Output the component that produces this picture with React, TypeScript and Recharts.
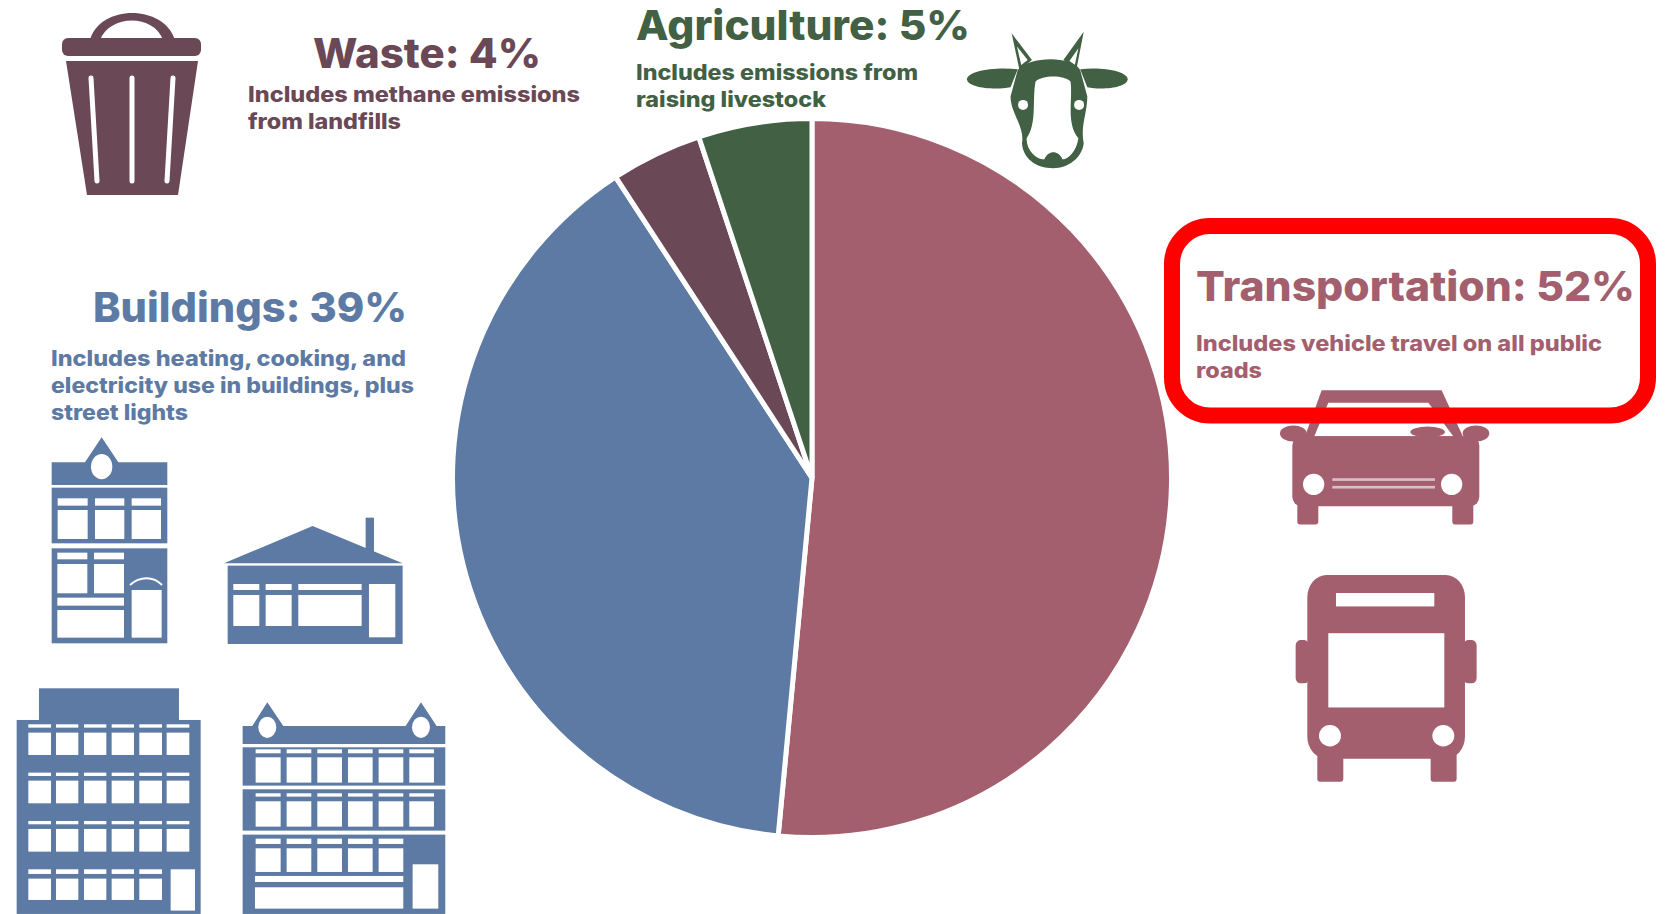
import React from 'react';
import { Cell, Pie, PieChart } from 'recharts';

const sectors = ['Transportation', 'Buildings', 'Waste', 'Agriculture'];
const shares = [51.5, 39.3, 4.1, 5.1];
const colors = ['#a35f6e', '#5c7aa3', '#6a4855', '#426044'];

const headings = ['Transportation: 52%', 'Buildings: 39%', 'Waste: 4%', 'Agriculture: 5%'];
const notes = [
    ['Includes vehicle travel on all public', 'roads'],
    ['Includes heating, cooking, and', 'electricity use in buildings, plus', 'street lights'],
    ['Includes methane emissions', 'from landfills'],
    ['Includes emissions from', 'raising livestock'],
];

const data = sectors.map((name, i) => ({ name, value: shares[i] }));

// x, baseline, width, font size of each heading
const headingBoxes = [
    [1196, 301, 439, 41],
    [93, 322, 314, 41],
    [313, 68, 228, 41],
    [636, 40, 334, 41],
];
// x, first baseline, line gap, font size, line widths
const noteBoxes = [
    [1196, 351, 27, 21, [406, 66]],
    [51, 366, 27, 21, [355, 363, 137]],
    [248, 102, 27, 21, [332, 153]],
    [636, 80, 27, 21, [282, 190]],
];

const font = 'Inter, "Open Sans", sans-serif';

// white cut-outs for the icons, in zoomed-crop units
const Hole = ({ x0, x1, y0, y1 }: { x0: number, x1: number, y0: number, y1: number }) => (
    <rect x={x0} y={y0} width={x1 - x0} height={y1 - y0} fill="#fff" />
);

const Windows = ({ cols, rows }: { cols: number[][], rows: number[][] }) => (
    <>
        {rows.map((r, j) => cols.map((c, i) => (
            <React.Fragment key={`${j}-${i}`}>
                <Hole x0={c[0]} x1={c[1]} y0={r[0]} y1={r[1]} />
                <Hole x0={c[0]} x1={c[1]} y0={r[2]} y1={r[3]} />
            </React.Fragment>
        )))}
    </>
);

const TrashIcon = () => (
    <g fill="#6a4855">
        <path d="M90 40 C100 4 164 4 175 40 L163 40 C154 14 110 14 100 40 Z" />
        <rect x={62} y={38} width={139} height={18} rx={6} />
        <path d="M66 61 L198 61 L178 195 L87 195 Z" />
        <g stroke="#fff" strokeWidth={5} strokeLinecap="round">
            <line x1={91} y1={78} x2={97} y2={181} />
            <line x1={132} y1={78} x2={132} y2={181} />
            <line x1={173} y1={78} x2={167} y2={181} />
        </g>
    </g>
);

const CowIcon = () => (
    <g transform="translate(600,0) scale(0.357,0.333)" fill="#426044">
        <path d="M1153 100 L1210 180 L1175 210 Z M1168 140 L1180 195 L1198 180 Z" fillRule="evenodd" />
        <path d="M1355 95 L1335 205 L1298 180 Z M1340 145 L1315 183 L1330 195 Z" fillRule="evenodd" />
        <path d="M1170 208 C1100 200 1028 215 1028 238 C1028 262 1100 272 1150 262 Z" />
        <path d="M1345 208 C1410 200 1478 215 1478 238 C1478 262 1410 272 1365 262 Z" />
        <path d="M1170 210 C1200 170 1320 165 1345 210 L1365 290 C1365 340 1345 380 1355 430 C1350 475 1310 505 1270 505 C1220 505 1185 475 1182 430 C1190 380 1150 340 1150 290 Z" />
        <path d="M1220 245 C1240 225 1300 225 1318 245 C1325 300 1305 370 1340 415 C1335 455 1310 480 1295 478 C1285 450 1255 450 1245 478 C1225 480 1195 455 1195 415 C1225 370 1210 300 1220 245 Z" fill="#fff" />
        <ellipse cx={1185} cy={315} rx={14} ry={15} fill="#fff" />
        <ellipse cx={1342} cy={315} rx={14} ry={15} fill="#fff" />
    </g>
);

const VehicleIcons = () => (
    <g transform="translate(1150,200) scale(0.3333,0.3827)" fill="#a35f6e">
        {/* car */}
        <path d="M515 497 L875 497 L945 630 L460 630 Z" />
        <path d="M535 530 L835 530 L910 617 L493 617 Z" fill="#fff" />
        <ellipse cx={833} cy={606} rx={52} ry={14} />
        <ellipse cx={430} cy={610} rx={40} ry={21} />
        <ellipse cx={978} cy={610} rx={40} ry={21} />
        <rect x={427} y={617} width={561} height={183} rx={25} />
        <rect x={442} y={770} width={63} height={78} rx={8} />
        <rect x={907} y={770} width={63} height={78} rx={8} />
        <ellipse cx={491} cy={743} rx={32} ry={28} fill="#fff" />
        <ellipse cx={905} cy={743} rx={32} ry={28} fill="#fff" />
        <rect x={547} y={727} width={308} height={7} fill="#fff" fillOpacity={0.6} />
        <rect x={547} y={747} width={308} height={7} fill="#fff" fillOpacity={0.6} />
        {/* bus */}
        <rect x={437} y={1150} width={40} height={113} rx={14} />
        <rect x={940} y={1150} width={40} height={113} rx={14} />
        <rect x={472} y={980} width={473} height={480} rx={58} />
        <rect x={502} y={1420} width={78} height={100} rx={8} />
        <rect x={842} y={1420} width={78} height={100} rx={8} />
        <Hole x0={558} x1={853} y0={1027} y1={1062} />
        <Hole x0={535} x1={883} y0={1132} y1={1326} />
        <ellipse cx={540} cy={1400} rx={33} ry={28} fill="#fff" />
        <ellipse cx={880} cy={1400} rx={33} ry={28} fill="#fff" />
    </g>
);

const colsB = [[767, 842], [860, 934], [952, 1026], [1044, 1118], [1136, 1210], [1228, 1302]];
const colsC = [[85, 153], [168, 235], [252, 319], [335, 402], [418, 486], [500, 568]];

const BuildingIcons = () => (
    <g transform="translate(0,420) scale(0.3333)" fill="#5c7aa3">
        {/* corner building */}
        <path d="M305 52 L355 127 L502 127 L502 195 L155 195 L155 127 L255 127 Z" />
        <ellipse cx={305} cy={140} rx={32} ry={38} fill="#fff" />
        <rect x={155} y={203} width={347} height={167} />
        <Windows cols={[[173, 263], [285, 373], [395, 483]]} rows={[[235, 257, 270, 357]]} />
        <rect x={155} y={385} width={347} height={285} />
        <Windows cols={[[172, 262], [282, 372]]} rows={[[398, 418, 432, 520]]} />
        <Hole x0={172} x1={372} y0={533} y1={557} />
        <Hole x0={172} x1={372} y0={570} y1={653} />
        <Hole x0={395} x1={485} y0={510} y1={653} />
        <path d="M390 495 C420 468 460 468 486 495" fill="none" stroke="#fff" strokeWidth={6} />
        {/* low house */}
        <rect x={1097} y={293} width={25} height={110} />
        <path d="M672 430 L938 318 L1208 430 Z" />
        <rect x={683} y={437} width={525} height={235} />
        <Hole x0={700} x1={778} y0={492} y1={510} />
        <Hole x0={797} x1={875} y0={492} y1={510} />
        <Hole x0={895} x1={1085} y0={492} y1={510} />
        <Hole x0={700} x1={778} y0={525} y1={618} />
        <Hole x0={797} x1={875} y0={525} y1={618} />
        <Hole x0={895} x1={1085} y0={525} y1={618} />
        <Hole x0={1107} x1={1186} y0={492} y1={652} />
        {/* office block */}
        <rect x={117} y={805} width={420} height={100} />
        <rect x={50} y={900} width={552} height={582} />
        <Windows cols={colsC} rows={[[913, 923, 938, 1005], [1058, 1068, 1082, 1150], [1203, 1213, 1227, 1295]]} />
        <Windows cols={colsC.slice(0, 5)} rows={[[1348, 1362, 1376, 1440]]} />
        <Hole x0={512} x1={585} y0={1348} y1={1472} />
        {/* terrace */}
        <path d="M802 847 L850 918 L1217 918 L1263 847 L1310 918 L1336 918 L1336 972 L728 972 L728 918 L757 918 Z" />
        <ellipse cx={802} cy={922} rx={27} ry={32} fill="#fff" />
        <ellipse cx={1263} cy={922} rx={27} ry={32} fill="#fff" />
        <rect x={728} y={982} width={608} height={115} />
        <Windows cols={colsB} rows={[[988, 1000, 1012, 1088]]} />
        <rect x={728} y={1108} width={608} height={124} />
        <Windows cols={colsB} rows={[[1120, 1130, 1144, 1220]]} />
        <rect x={728} y={1244} width={608} height={238} />
        <Windows cols={colsB.slice(0, 5)} rows={[[1256, 1272, 1285, 1356]]} />
        <Hole x0={765} x1={1210} y0={1368} y1={1386} />
        <Hole x0={765} x1={1210} y0={1402} y1={1466} />
        <Hole x0={1238} x1={1315} y0={1333} y1={1466} />
    </g>
);

export default function App() {
    return (
        <div style={{ position: 'absolute', left: 0, top: 0, width: 1668, height: 914, background: '#fff', overflow: 'hidden' }}>
            <PieChart width={1668} height={914} margin={{ top: 0, right: 0, bottom: 0, left: 0 }}>
                <Pie
                    data={data}
                    dataKey="value"
                    nameKey="name"
                    cx={812}
                    cy={478}
                    innerRadius={0}
                    outerRadius={359.5}
                    startAngle={90}
                    endAngle={-270}
                    stroke="#ffffff"
                    strokeWidth={5}
                    isAnimationActive={false}
                >
                    {data.map((d, i) => (
                        <Cell key={d.name} fill={colors[i]} />
                    ))}
                </Pie>
            </PieChart>
            <svg width={1668} height={914} style={{ position: 'absolute', left: 0, top: 0 }}>
                <TrashIcon />
                <CowIcon />
                <VehicleIcons />
                <BuildingIcons />
                <rect x={1172} y={226} width={476} height={189.5} rx={38} fill="none" stroke="#ff0000" strokeWidth={16} />
                {headings.map((h, i) => {
                    const [x, y, w, size] = headingBoxes[i];
                    return (
                        <text key={h} x={x} y={y} fontFamily={font} fontWeight={800} fontSize={size} fill={colors[i]} textLength={w} lengthAdjust="spacingAndGlyphs">
                            {h}
                        </text>
                    );
                })}
                {notes.map((lines, i) => {
                    const [x, y, gap, size, widths] = noteBoxes[i] as [number, number, number, number, number[]];
                    return lines.map((line, j) => (
                        <text key={line} x={x} y={y + j * gap} fontFamily={font} fontWeight={800} fontSize={size} fill={colors[i]} textLength={widths[j]} lengthAdjust="spacingAndGlyphs">
                            {line}
                        </text>
                    ));
                })}
            </svg>
        </div>
    );
}
